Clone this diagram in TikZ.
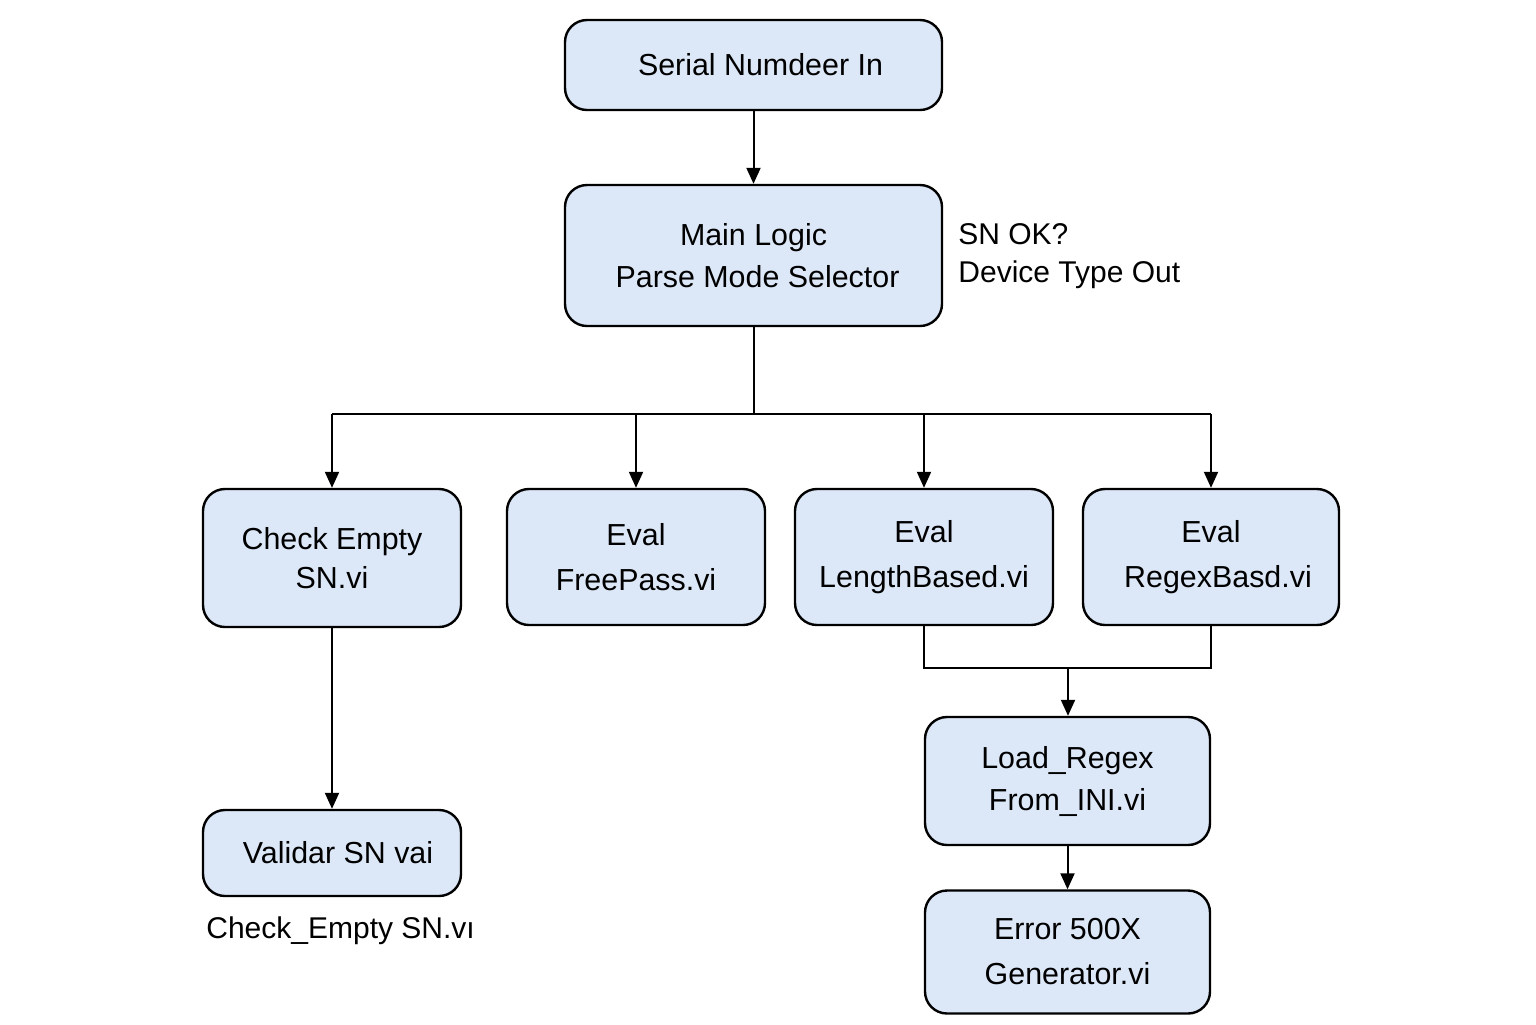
\documentclass[tikz,border=0pt]{standalone}
\usepackage{fontspec}
\setmainfont{Liberation Sans}
\usetikzlibrary{arrows.meta}
\definecolor{boxfill}{HTML}{DCE8F8}
\tikzset{
  box/.style={draw=black, fill=boxfill, line width=1.2pt, rounded corners=11pt,
    align=center, inner sep=0pt, font=\fontsize{15.2}{21}\selectfont},
  tight/.style={font=\fontsize{15.2}{19.5}\selectfont},
  wide/.style={font=\fontsize{15.2}{22.5}\selectfont},
  conn/.style={line width=1pt},
  arr/.style={line width=1pt, -{Triangle[length=8pt,width=7pt]}},
  lbl/.style={align=left, inner sep=0pt, font=\fontsize{15}{19}\selectfont}
}
\begin{document}
\begin{tikzpicture}[x=0.5pt,y=-0.5pt]
\useasboundingbox (0,0) rectangle (1536,1024);
\node[box, minimum width=188.5pt, minimum height=45pt] (in) at (753.5,65) {\hspace*{7pt}Serial Numdeer In};
\node[box, minimum width=188.5pt, minimum height=70.5pt] (main) at (753.5,255.5) {Main Logic\\\hspace*{4pt}Parse Mode Selector};
\node[box, tight, minimum width=129pt, minimum height=69pt] (chk) at (332,558) {Check Empty\\SN.vi};
\node[box, wide, minimum width=129pt, minimum height=68pt] (free) at (636,557) {Eval\\FreePass.vi};
\node[box, wide, minimum width=129pt, minimum height=68pt] (len) at (924,557) {Eval\\LengthBased.vi};
\node[box, wide, minimum width=128pt, minimum height=68pt] (reg) at (1211,557) {Eval\\\hspace*{7pt}RegexBasd.vi};
\node[box, minimum width=129pt, minimum height=43pt] (val) at (332,853) {\hspace*{6pt}Validar SN vai};
\node[box, minimum width=142.5pt, minimum height=64pt] (load) at (1067.5,781) {Load\_Regex\\From\_INI.vi};
\node[box, wide, minimum width=142.5pt, minimum height=61.5pt] (err) at (1067.5,952) {Error 500X\\Generator.vi};

\node[lbl, anchor=west] (ok) at (958,256) {SN OK?\\Device Type Out};
\node[lbl, anchor=west] (cap) at (206,931) {Check\_Empty SN.vı};

\coordinate (busL) at (332,414);
\coordinate (busR) at (1211,414);
\coordinate (j) at (1068,668);

\draw[arr] (in.south) -- (main.north);
\draw[conn] (main.south) -- (main.south |- busL);
\draw[conn] (busL) -- (busR);
\draw[arr] (busL) -- (chk.north);
\draw[arr] (free.north |- busL) -- (free.north);
\draw[arr] (len.north |- busL) -- (len.north);
\draw[arr] (busR) -- (reg.north);
\draw[arr] (chk.south) -- (val.north);
\draw[conn] (len.south) -- (len.south |- j) -- (reg.south |- j) -- (reg.south);
\draw[arr] (j) -- (load.north -| j);
\draw[arr] (load.south) -- (err.north);
\end{tikzpicture}
\end{document}
